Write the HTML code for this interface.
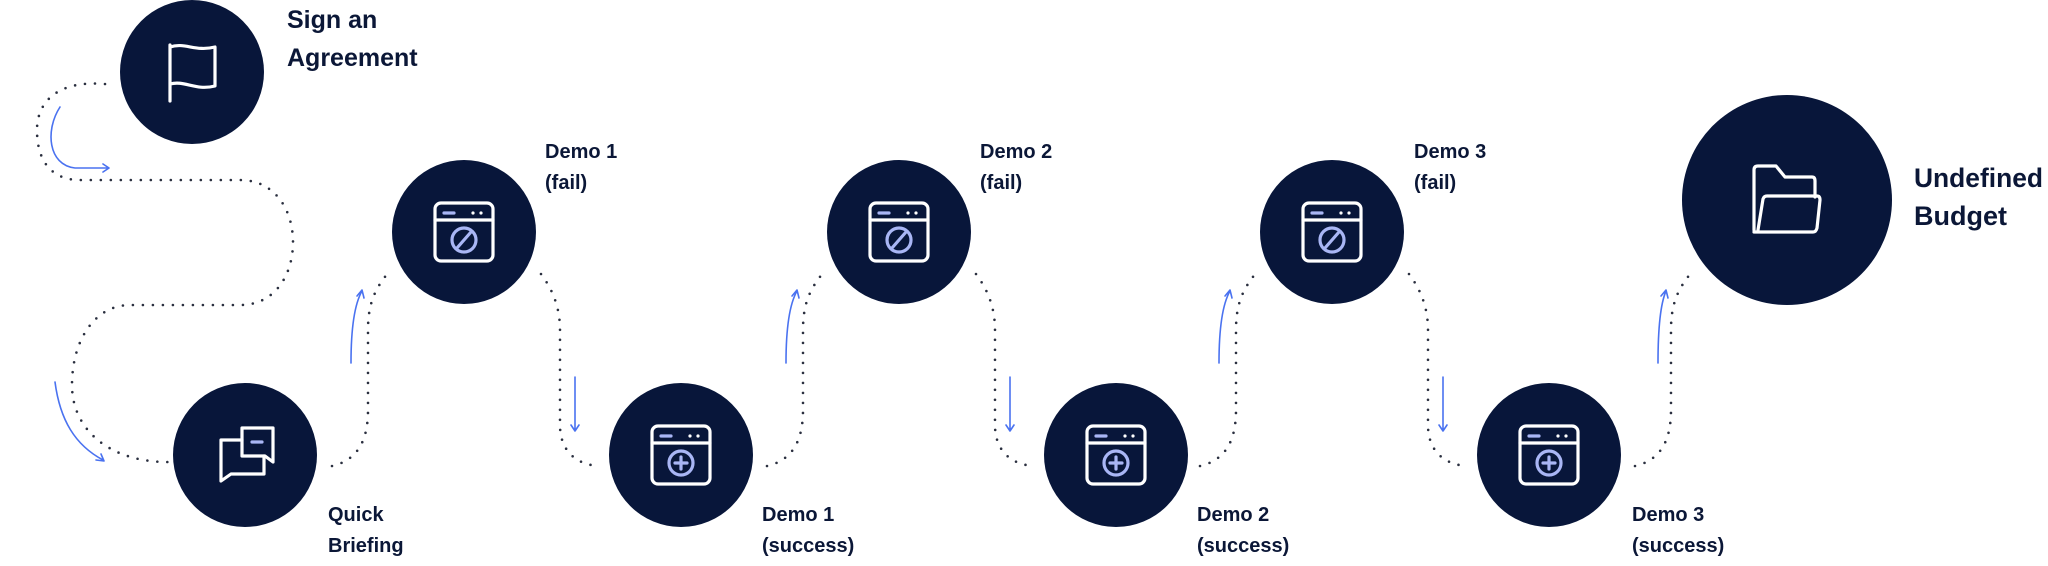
<!DOCTYPE html>
<html><head><meta charset="utf-8"><style>
html,body{margin:0;padding:0;background:#fff;}
svg{display:block}
text{font-family:"Liberation Sans",sans-serif;fill:#0b1737;}
.b{font-weight:bold;font-size:25px}
.m{font-size:20px;font-weight:bold}
.dot{fill:none;stroke:#2a2f3f;stroke-width:2.6;stroke-linecap:round;stroke-dasharray:0 10}
.ar{fill:none;stroke:#4a72f0;stroke-width:1.6;stroke-linecap:round;stroke-linejoin:round}
.ic{fill:none;stroke:#fff;stroke-width:3.2;stroke-linejoin:round;stroke-linecap:round}
.il{fill:none;stroke:#a9b6f5;stroke-width:3.2;stroke-linecap:round}
</style></head><body>
<svg width="2048" height="566" viewBox="0 0 2048 566" xmlns="http://www.w3.org/2000/svg">
<defs>
<g id="win">
<rect x="-29" y="-29" width="58" height="58" rx="6" class="ic"/>
<line x1="-29" y1="-12" x2="29" y2="-12" class="ic"/>
<line x1="-20" y1="-19" x2="-10" y2="-19" class="il"/>
<circle cx="9" cy="-19" r="1.6" fill="#fff"/><circle cx="17" cy="-19" r="1.6" fill="#fff"/>
</g>
<g id="fail"><circle r="72" fill="#08163a"/><use href="#win"/><circle cx="0" cy="8" r="12" class="il"/><line x1="-7" y1="16" x2="7" y2="0" class="il"/></g>
<g id="succ"><circle r="72" fill="#08163a"/><use href="#win"/><circle cx="0" cy="8" r="12" class="il"/><line x1="-6" y1="8" x2="6" y2="8" class="il"/><line x1="0" y1="2" x2="0" y2="14" class="il"/></g>
<g id="seg">
<path class="dot" d="M332,466 C358,460 368,440 368,410 L368,330 C368,305 374,290 388,273"/>
<path class="dot" d="M541,274 C553,290 560,308 560,330 L560,425 C560,450 575,464 598,466"/>
<path class="ar" d="M351,363 C351,330 354,305 362,291 M357,296 L362,290 L364,298"/>
<path class="ar" d="M575,377 L575,430 M571,425 L575,431 L579,425"/>
</g>
</defs>

<path class="dot" d="M105,84 C60,80 37,100 37,130 C37,165 55,180 80,180 L240,180 C275,180 293,210 293,242 C293,275 275,305 240,305 L130,305 C95,305 72,340 72,385 C72,430 110,462 168,462"/>
<path class="ar" d="M60,107 C45,130 48,165 75,168 L108,168 M103,164 L109,168 L103,172"/>
<path class="ar" d="M55,382 C60,420 75,445 103,460 M96,460 L104,461 L101,454"/>

<use href="#seg"/>
<use href="#seg" transform="translate(435,0)"/>
<use href="#seg" transform="translate(868,0)"/>
<path class="dot" d="M1635,466 C1661,460 1671,440 1671,410 L1671,330 C1671,305 1677,290 1691,273"/>
<path class="ar" d="M1658,363 C1658,330 1660,305 1666,291 M1661,296 L1666,290 L1668,298"/>

<circle cx="192" cy="72" r="72" fill="#08163a"/>
<path class="ic" d="M170,45 L170,101 M170,47 C185,42 195,52 215,47 L215,86 C195,91 185,80 170,84"/>
<circle cx="245" cy="455" r="72" fill="#08163a"/>
<path class="ic" d="M242,428 L273,428 L273,462 L265,456 L242,456 Z"/>
<path class="ic" d="M242,440 L221,440 L221,481 L231,474 L264,474 L264,456"/>
<line x1="252" y1="442" x2="262" y2="442" class="il"/>

<use href="#fail" x="464" y="232"/>
<use href="#succ" x="681" y="455"/>
<use href="#fail" x="899" y="232"/>
<use href="#succ" x="1116" y="455"/>
<use href="#fail" x="1332" y="232"/>
<use href="#succ" x="1549" y="455"/>

<circle cx="1787" cy="200" r="105" fill="#08163a"/>
<path class="ic" d="M1754,230 L1754,170 Q1754,166 1758,166 L1776,166 L1785,177 L1812,177 Q1815,177 1815,181 L1815,197"/>
<path class="ic" d="M1758,230 L1763,199 Q1764,196 1767,196 L1817,196 Q1820,196 1820,200 L1817,228 Q1816,232 1813,232 L1754,232"/>

<text class="b" x="287" y="28">Sign an</text>
<text class="b" x="287" y="66">Agreement</text>
<text class="m" x="545" y="158">Demo 1</text><text class="m" x="545" y="189">(fail)</text>
<text class="m" x="980" y="158">Demo 2</text><text class="m" x="980" y="189">(fail)</text>
<text class="m" x="1414" y="158">Demo 3</text><text class="m" x="1414" y="189">(fail)</text>
<text class="m" x="328" y="521">Quick</text><text class="m" x="328" y="552">Briefing</text>
<text class="m" x="762" y="521">Demo 1</text><text class="m" x="762" y="552">(success)</text>
<text class="m" x="1197" y="521">Demo 2</text><text class="m" x="1197" y="552">(success)</text>
<text class="m" x="1632" y="521">Demo 3</text><text class="m" x="1632" y="552">(success)</text>
<text class="b" x="1914" y="187" style="font-size:27px" textLength="129" lengthAdjust="spacingAndGlyphs">Undefined</text>
<text class="b" x="1914" y="225" style="font-size:27px">Budget</text>
</svg>
</body></html>
